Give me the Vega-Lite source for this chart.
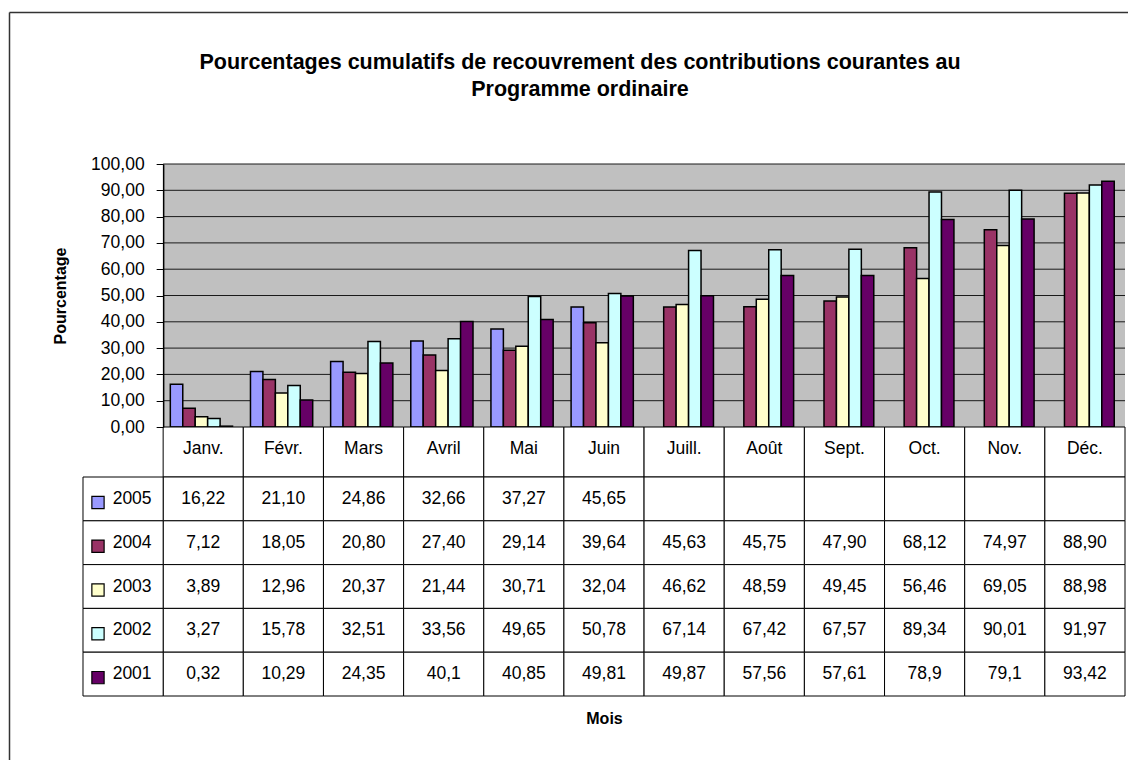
{
  "$schema": "https://vega.github.io/schema/vega-lite/v6.json",
  "width": 1119,
  "height": 748,
  "autosize": {"type": "none"},
  "padding": {"left": 9, "top": 12, "right": 0, "bottom": 0},
  "background": "white",
  "title": {
    "text": ["Pourcentages cumulatifs de recouvrement des contributions courantes au", "Programme ordinaire"],
    "anchor": "middle",
    "frame": "group",
    "offset": 0,
    "dy": 91.5,
    "dx": 11.5,
    "font": "Liberation Sans",
    "fontSize": 21.5,
    "fontWeight": "bold",
    "lineHeight": 27,
    "color": "black"
  },
  "datasets": {
    "months": [
      {"month": "Janv."}, {"month": "Févr."}, {"month": "Mars"}, {"month": "Avril"},
      {"month": "Mai"}, {"month": "Juin"}, {"month": "Juill."}, {"month": "Août"},
      {"month": "Sept."}, {"month": "Oct."}, {"month": "Nov."}, {"month": "Déc."}
    ],
    "years": [
      {"year": "2005"}, {"year": "2004"}, {"year": "2003"}, {"year": "2002"}, {"year": "2001"}
    ],
    "grid": [
      {"g": 10}, {"g": 20}, {"g": 30}, {"g": 40}, {"g": 50},
      {"g": 60}, {"g": 70}, {"g": 80}, {"g": 90}, {"g": 100}
    ],
    "table": [
      {"year": "2005", "month": "Janv.", "value": 16.22, "label": "16,22"},
      {"year": "2005", "month": "Févr.", "value": 21.10, "label": "21,10"},
      {"year": "2005", "month": "Mars", "value": 24.86, "label": "24,86"},
      {"year": "2005", "month": "Avril", "value": 32.66, "label": "32,66"},
      {"year": "2005", "month": "Mai", "value": 37.27, "label": "37,27"},
      {"year": "2005", "month": "Juin", "value": 45.65, "label": "45,65"},
      {"year": "2005", "month": "Juill.", "value": null, "label": ""},
      {"year": "2005", "month": "Août", "value": null, "label": ""},
      {"year": "2005", "month": "Sept.", "value": null, "label": ""},
      {"year": "2005", "month": "Oct.", "value": null, "label": ""},
      {"year": "2005", "month": "Nov.", "value": null, "label": ""},
      {"year": "2005", "month": "Déc.", "value": null, "label": ""},
      {"year": "2004", "month": "Janv.", "value": 7.12, "label": "7,12"},
      {"year": "2004", "month": "Févr.", "value": 18.05, "label": "18,05"},
      {"year": "2004", "month": "Mars", "value": 20.80, "label": "20,80"},
      {"year": "2004", "month": "Avril", "value": 27.40, "label": "27,40"},
      {"year": "2004", "month": "Mai", "value": 29.14, "label": "29,14"},
      {"year": "2004", "month": "Juin", "value": 39.64, "label": "39,64"},
      {"year": "2004", "month": "Juill.", "value": 45.63, "label": "45,63"},
      {"year": "2004", "month": "Août", "value": 45.75, "label": "45,75"},
      {"year": "2004", "month": "Sept.", "value": 47.90, "label": "47,90"},
      {"year": "2004", "month": "Oct.", "value": 68.12, "label": "68,12"},
      {"year": "2004", "month": "Nov.", "value": 74.97, "label": "74,97"},
      {"year": "2004", "month": "Déc.", "value": 88.90, "label": "88,90"},
      {"year": "2003", "month": "Janv.", "value": 3.89, "label": "3,89"},
      {"year": "2003", "month": "Févr.", "value": 12.96, "label": "12,96"},
      {"year": "2003", "month": "Mars", "value": 20.37, "label": "20,37"},
      {"year": "2003", "month": "Avril", "value": 21.44, "label": "21,44"},
      {"year": "2003", "month": "Mai", "value": 30.71, "label": "30,71"},
      {"year": "2003", "month": "Juin", "value": 32.04, "label": "32,04"},
      {"year": "2003", "month": "Juill.", "value": 46.62, "label": "46,62"},
      {"year": "2003", "month": "Août", "value": 48.59, "label": "48,59"},
      {"year": "2003", "month": "Sept.", "value": 49.45, "label": "49,45"},
      {"year": "2003", "month": "Oct.", "value": 56.46, "label": "56,46"},
      {"year": "2003", "month": "Nov.", "value": 69.05, "label": "69,05"},
      {"year": "2003", "month": "Déc.", "value": 88.98, "label": "88,98"},
      {"year": "2002", "month": "Janv.", "value": 3.27, "label": "3,27"},
      {"year": "2002", "month": "Févr.", "value": 15.78, "label": "15,78"},
      {"year": "2002", "month": "Mars", "value": 32.51, "label": "32,51"},
      {"year": "2002", "month": "Avril", "value": 33.56, "label": "33,56"},
      {"year": "2002", "month": "Mai", "value": 49.65, "label": "49,65"},
      {"year": "2002", "month": "Juin", "value": 50.78, "label": "50,78"},
      {"year": "2002", "month": "Juill.", "value": 67.14, "label": "67,14"},
      {"year": "2002", "month": "Août", "value": 67.42, "label": "67,42"},
      {"year": "2002", "month": "Sept.", "value": 67.57, "label": "67,57"},
      {"year": "2002", "month": "Oct.", "value": 89.34, "label": "89,34"},
      {"year": "2002", "month": "Nov.", "value": 90.01, "label": "90,01"},
      {"year": "2002", "month": "Déc.", "value": 91.97, "label": "91,97"},
      {"year": "2001", "month": "Janv.", "value": 0.32, "label": "0,32"},
      {"year": "2001", "month": "Févr.", "value": 10.29, "label": "10,29"},
      {"year": "2001", "month": "Mars", "value": 24.35, "label": "24,35"},
      {"year": "2001", "month": "Avril", "value": 40.1, "label": "40,1"},
      {"year": "2001", "month": "Mai", "value": 40.85, "label": "40,85"},
      {"year": "2001", "month": "Juin", "value": 49.81, "label": "49,81"},
      {"year": "2001", "month": "Juill.", "value": 49.87, "label": "49,87"},
      {"year": "2001", "month": "Août", "value": 57.56, "label": "57,56"},
      {"year": "2001", "month": "Sept.", "value": 57.61, "label": "57,61"},
      {"year": "2001", "month": "Oct.", "value": 78.9, "label": "78,9"},
      {"year": "2001", "month": "Nov.", "value": 79.1, "label": "79,1"},
      {"year": "2001", "month": "Déc.", "value": 93.42, "label": "93,42"}
    ]
  },
  "layer": [
    {
      "data": {"values": [{"zone": "frame"}]},
      "mark": {"type": "point", "opacity": 0},
      "encoding": {
        "x": {
          "datum": 0, "type": "quantitative",
          "scale": {"domain": [0, 1], "range": [0, 1119], "nice": false, "zero": false},
          "axis": {"orient": "top", "offset": 0, "domain": true, "domainColor": "#333333", "domainWidth": 1.5, "ticks": false, "labels": false, "grid": false, "title": null}
        },
        "y": {
          "datum": 0, "type": "quantitative",
          "scale": {"domain": [0, 1], "range": [0, 748], "nice": false, "zero": false},
          "axis": {"orient": "left", "offset": 0, "domain": true, "domainColor": "#333333", "domainWidth": 1.5, "ticks": false, "labels": false, "grid": false, "title": null}
        }
      }
    },
    {
      "layer": [
        {
          "data": {"values": [{"zone": "plot"}]},
          "mark": {"type": "rect", "fill": "#C0C0C0"},
          "encoding": {
            "x": {"datum": 0, "type": "quantitative", "scale": {"domain": [0, 12], "range": [154.15, 1116], "nice": false, "zero": false}, "axis": null},
            "x2": {"datum": 12},
            "y": {
              "datum": 0, "type": "quantitative",
              "scale": {"domain": [0, 100], "range": [415, 152], "nice": false},
              "axis": {
                "orient": "left", "offset": -154.15,
                "values": [0, 10, 20, 30, 40, 50, 60, 70, 80, 90, 100],
                "labelExpr": "replace(format(datum.value, '.2f'), '.', ',')",
                "labelFont": "Liberation Sans", "labelFontSize": 17.5, "labelColor": "black", "labelPadding": 12,
                "tickSize": 7, "tickColor": "black", "tickWidth": 1,
                "domainColor": "black", "domainWidth": 1.5,
                "grid": false,
                "title": "Pourcentage", "titleFont": "Liberation Sans", "titleFontSize": 16, "titleFontWeight": "bold",
                "titleColor": "black", "titlePadding": 22,
                "zindex": 1
              }
            },
            "y2": {"datum": 100}
          }
        },
        {
          "data": {"name": "grid"},
          "mark": {"type": "rule", "color": "#1a1a1a", "strokeWidth": 1},
          "encoding": {
            "x": {"datum": 0, "type": "quantitative"},
            "x2": {"datum": 12},
            "y": {"field": "g", "type": "quantitative"}
          }
        }
      ]
    },
    {
      "data": {"name": "table"},
      "transform": [{"filter": "datum.value != null"}],
      "mark": {"type": "bar", "stroke": "black", "strokeWidth": 1.5},
      "encoding": {
        "x": {
          "field": "month", "type": "nominal",
          "scale": {"domain": ["Janv.", "Févr.", "Mars", "Avril", "Mai", "Juin", "Juill.", "Août", "Sept.", "Oct.", "Nov.", "Déc."], "range": [154.15, 1116], "paddingInner": 0, "paddingOuter": 0},
          "axis": null
        },
        "xOffset": {
          "field": "year", "type": "nominal",
          "scale": {"domain": ["2005", "2004", "2003", "2002", "2001"], "paddingInner": 0, "paddingOuter": 0.72, "align": 0.4}
        },
        "y": {
          "field": "value", "type": "quantitative",
          "scale": {"domain": [0, 100], "range": [415, 152], "nice": false},
          "axis": null
        },
        "color": {
          "field": "year", "type": "nominal",
          "scale": {"domain": ["2005", "2004", "2003", "2002", "2001"], "range": ["#9999FF", "#993366", "#FFFFCC", "#CCFFFF", "#660066"]},
          "legend": null
        }
      }
    },
    {
      "data": {"name": "months"},
      "encoding": {
        "x": {
          "field": "month", "type": "nominal",
          "scale": {"domain": ["Janv.", "Févr.", "Mars", "Avril", "Mai", "Juin", "Juill.", "Août", "Sept.", "Oct.", "Nov.", "Déc."], "range": [154.15, 1116], "paddingInner": 0, "paddingOuter": 0},
          "axis": null
        },
        "y": {
          "datum": "Mois", "type": "nominal",
          "scale": {"domain": ["Mois"], "range": [415, 465], "paddingInner": 0, "paddingOuter": 0},
          "axis": null
        }
      },
      "layer": [
        {"mark": {"type": "rect", "fill": "white", "stroke": "black", "strokeWidth": 1}},
        {"mark": {"type": "text", "font": "Liberation Sans", "fontSize": 17.5, "color": "black", "dy": -3}, "encoding": {"text": {"field": "month"}}}
      ]
    },
    {
      "encoding": {
        "x": {
          "field": "month", "type": "nominal",
          "scale": {"domain": ["Légende", "Janv.", "Févr.", "Mars", "Avril", "Mai", "Juin", "Juill.", "Août", "Sept.", "Oct.", "Nov.", "Déc."], "range": [74, 1116], "paddingInner": 0, "paddingOuter": 0},
          "axis": {
            "title": "Mois", "orient": "bottom", "offset": -50,
            "labels": false, "ticks": false, "domain": false, "grid": false,
            "titleFont": "Liberation Sans", "titleFontSize": 16, "titleFontWeight": "bold", "titleColor": "black", "titlePadding": 0
          }
        },
        "y": {
          "field": "year", "type": "nominal",
          "scale": {"domain": ["2005", "2004", "2003", "2002", "2001"], "range": [465, 684], "paddingInner": 0, "paddingOuter": 0},
          "axis": null
        }
      },
      "layer": [
        {
          "data": {"name": "table"},
          "mark": {"type": "rect", "fill": "white", "stroke": "black", "strokeWidth": 1}
        },
        {
          "data": {"name": "years"},
          "mark": {"type": "rect", "fill": "white", "stroke": "black", "strokeWidth": 1},
          "encoding": {"x": {"datum": "Légende", "type": "nominal"}}
        },
        {
          "data": {"name": "table"},
          "mark": {"type": "text", "font": "Liberation Sans", "fontSize": 17.5, "color": "black"},
          "encoding": {"text": {"field": "label"}}
        },
        {
          "data": {"name": "years"},
          "mark": {"type": "point", "shape": "square", "filled": true, "size": 150, "stroke": "black", "strokeWidth": 1.2, "opacity": 1},
          "encoding": {
            "x": {"datum": "Légende", "type": "nominal", "bandPosition": 0.187},
            "y": {"field": "year", "type": "nominal", "bandPosition": 0.58},
            "color": {"field": "year", "type": "nominal", "legend": null}
          }
        },
        {
          "data": {"name": "years"},
          "mark": {"type": "text", "align": "left", "font": "Liberation Sans", "fontSize": 17.5, "color": "black"},
          "encoding": {
            "x": {"datum": "Légende", "type": "nominal", "bandPosition": 0.37},
            "text": {"field": "year"}
          }
        }
      ]
    }
  ],
  "resolve": {"scale": {"x": "independent", "y": "independent", "xOffset": "independent"}},
  "config": {
    "view": {"stroke": null, "fill": "white"},
    "font": "Liberation Sans"
  }
}
